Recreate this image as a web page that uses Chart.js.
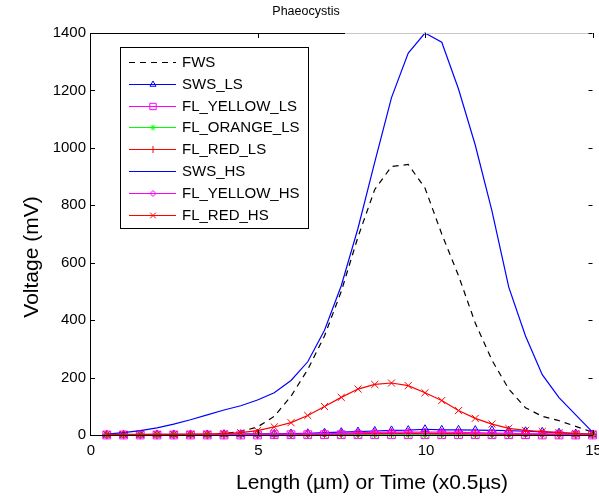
<!DOCTYPE html>
<html>
<head>
<meta charset="utf-8">
<script src="https://cdn.jsdelivr.net/npm/chart.js@4.4.0/dist/chart.umd.min.js"></script>
<style>
    html, body { margin: 0; padding: 0; background: #fff; }
    #wrap { position: relative; width: 599px; height: 496px; }
</style>
</head>
<body>
<div id="wrap"><canvas id="chart" width="599" height="496"></canvas></div>
<script>
// x positions (length in um / time step)
const xValues = [0.5, 1, 1.5, 2, 2.5, 3, 3.5, 4, 4.5, 5, 5.5, 6, 6.5, 7, 7.5, 8, 8.5, 9, 9.5, 10,
                 10.5, 11, 11.5, 12, 12.5, 13, 13.5, 14, 14.5, 15];

// Series values (mV)
const fws        = [0, 0, 0, 0, 1, 1, 2, 5, 12, 28, 65, 135, 228, 345, 500, 690, 855, 935, 942, 860,
                    700, 555, 390, 260, 160, 95, 65, 50, 30, 10];
const swsLs      = [1, 1, 1, 2, 2, 2, 2, 3, 3, 4, 4, 5, 6, 8, 10, 12, 14, 16, 17, 20,
                    18, 18, 17, 16, 15, 13, 11, 8, 5, 2];
const flYellowLs = [0, 0, 0, 0, 0, 0, 0, 0, 0, 0, 1, 1, 1, 1, 1, 1, 1, 1, 1, 1,
                    1, 1, 1, 1, 1, 1, 0, 0, 0, 0];
const flOrangeLs = [0, 0, 0, 0, 0, 0, 0, 0, 0, 0, 0, 0, 0, 0, 0, 0.5, 0.5, 0.5, 0.5, 0.5,
                    0.5, 0.5, 0.5, 0, 0, 0, 0, 0, 0, 0];
const flRedLs    = [1, 1, 1, 1, 1, 1, 1, 1, 1, 2, 2, 2, 3, 3, 4, 5, 5, 6, 6, 6,
                    5, 5, 4, 4, 3, 3, 2, 2, 1, 1];
const swsHs      = [3, 8, 15, 25, 38, 53, 70, 87, 102, 122, 147, 190, 255, 365, 520, 720, 950, 1175, 1330, 1400,
                    1368, 1205, 1010, 780, 515, 345, 210, 130, 70, 10];
const flYellowHs = [1, 1, 1, 1, 1, 1, 1, 2, 2, 2, 3, 3, 4, 5, 6, 8, 9, 10, 10, 10,
                    10, 9, 8, 7, 6, 5, 4, 3, 2, 1];
const flRedHs    = [2, 2, 2, 2, 2, 3, 3, 5, 8, 15, 28, 43, 68, 99, 131, 160, 176, 181, 172, 147,
                    120, 85, 58, 38, 23, 16, 12, 8, 5, 3];

const seriesNames = ['FWS', 'SWS_LS', 'FL_YELLOW_LS', 'FL_ORANGE_LS', 'FL_RED_LS', 'SWS_HS', 'FL_YELLOW_HS', 'FL_RED_HS'];
const seriesData = [fws, swsLs, flYellowLs, flOrangeLs, flRedLs, swsHs, flYellowHs, flRedHs];

const xTicks = [0, 5, 10, 15];
const yTicks = [0, 200, 400, 600, 800, 1000, 1200, 1400];

const FONT = "'Liberation Sans', Arial, Helvetica, sans-serif";

// line / marker look per series
const styles = [
    { color: '#000000', marker: false, dash: [6, 5] },
    { color: '#0000ff', marker: 'triangle', radius: 4.5 },
    { color: '#ff00ff', marker: 'rect', radius: 5.5 },
    { color: '#00ff00', marker: 'star', radius: 4 },
    { color: '#ff0000', marker: 'cross', radius: 4.5 },
    { color: '#0000ff', marker: false },
    { color: '#ff00ff', marker: 'rectRot', radius: 4 },
    { color: '#ff0000', marker: 'crossRot', radius: 5 }
];

const datasets = seriesNames.map((name, i) => {
    const s = styles[i];
    return {
        label: name,
        data: xValues.map((x, j) => ({ x: x, y: seriesData[i][j] })),
        borderColor: s.color,
        borderWidth: 1.2,
        borderDash: s.dash || [],
        pointStyle: s.marker || 'circle',
        pointRadius: s.marker ? s.radius : 0,
        pointBorderColor: s.color,
        pointBackgroundColor: 'rgba(0,0,0,0)',
        pointBorderWidth: 1,
        tension: 0,
        fill: false,
        clip: false,
        order: seriesNames.length - 1 - i   // later series drawn on top
    };
});

// frame, inward ticks, x labels, titles and the boxed legend
const decorPlugin = {
    id: 'decor',
    afterDraw(chart) {
        const ctx = chart.ctx;
        const a = chart.chartArea;
        const xs = chart.scales.x, ys = chart.scales.y;
        ctx.save();
        ctx.lineWidth = 1;

        // frame
        ctx.strokeStyle = '#000';
        ctx.beginPath();
        ctx.moveTo(a.left + 0.5, a.top + 0.5);
        ctx.lineTo(a.left + 0.5, a.bottom + 0.5);
        ctx.lineTo(a.right, a.bottom + 0.5);
        ctx.moveTo(a.left + 0.5, a.top + 0.5);
        ctx.lineTo(345, a.top + 0.5);
        ctx.stroke();
        ctx.strokeStyle = '#c8c8c8';
        ctx.beginPath();
        ctx.moveTo(345, a.top + 0.5);
        ctx.lineTo(a.right, a.top + 0.5);
        ctx.stroke();

        // ticks pointing inward
        ctx.strokeStyle = '#000';
        ctx.beginPath();
        xTicks.forEach(v => {
            const px = Math.round(xs.getPixelForValue(v)) + 0.5;
            ctx.moveTo(px, a.bottom);
            ctx.lineTo(px, a.bottom - 5);
            ctx.moveTo(px, a.top);
            ctx.lineTo(px, a.top + 5);
        });
        yTicks.forEach(v => {
            const py = Math.round(ys.getPixelForValue(v)) + 0.5;
            ctx.moveTo(a.left, py);
            ctx.lineTo(a.left + 5, py);
            ctx.moveTo(a.right, py);
            ctx.lineTo(a.right - 4, py);
        });
        ctx.stroke();

        // x tick labels (the last one runs off the edge, as in the original)
        ctx.fillStyle = '#000';
        ctx.textAlign = 'center';
        ctx.textBaseline = 'middle';
        ctx.font = '15px ' + FONT;
        xTicks.forEach(v => {
            ctx.fillText(String(v), xs.getPixelForValue(v) + 1, 451);
        });

        // titles
        ctx.font = '12.5px ' + FONT;
        ctx.fillText('Phaeocystis', 306, 12);
        ctx.font = '21px ' + FONT;
        ctx.fillText('Length (\u00b5m) or Time (x0.5\u00b5s)', 372, 483);
        ctx.save();
        ctx.translate(32, 257);
        ctx.rotate(-Math.PI / 2);
        ctx.fillText('Voltage (mV)', 0, 0);
        ctx.restore();

        // legend box
        const box = { left: 120, top: 47, right: 308, bottom: 228 };
        ctx.fillStyle = '#fff';
        ctx.fillRect(box.left, box.top, box.right - box.left, box.bottom - box.top);
        ctx.strokeStyle = '#000';
        ctx.strokeRect(box.left + 0.5, box.top + 0.5, box.right - box.left, box.bottom - box.top);

        ctx.font = '15px ' + FONT;
        ctx.textAlign = 'left';
        seriesNames.forEach((name, i) => {
            const s = styles[i];
            const y = Math.round(62 + i * 21.8) + 0.5;
            ctx.lineWidth = 1.2;
            ctx.strokeStyle = s.color;
            ctx.setLineDash(s.dash || []);
            ctx.beginPath();
            ctx.moveTo(129, y);
            ctx.lineTo(176, y);
            ctx.stroke();
            ctx.setLineDash([]);
            if (s.marker) {
                ctx.lineWidth = 1;
                ctx.fillStyle = 'rgba(0,0,0,0)';
                Chart.helpers.drawPoint(ctx, {
                    pointStyle: s.marker, radius: s.radius - 1, rotation: 0, borderWidth: 1
                }, 153, y);
            }
            ctx.fillStyle = '#000';
            ctx.fillText(name, 182, y);
        });
        ctx.restore();
    }
};

new Chart(document.getElementById('chart').getContext('2d'), {
    type: 'line',
    data: { datasets: datasets },
    options: {
        responsive: false,
        animation: false,
        devicePixelRatio: 1,
        layout: { padding: { left: 0, top: 33, right: 0, bottom: 0 } },
        plugins: {
            legend: { display: false },
            title: { display: false },
            tooltip: { enabled: false }
        },
        scales: {
            x: {
                type: 'linear',
                min: 0,
                max: 15,
                grid: { display: false, drawTicks: false },
                border: { display: false },
                ticks: { display: false },
                afterBuildTicks: (scale) => { scale.ticks = xTicks.map(v => ({ value: v })); },
                afterFit: (scale) => { scale.height = 61; scale.paddingLeft = 0; scale.paddingRight = 0; }
            },
            y: {
                type: 'linear',
                min: 0,
                max: 1400,
                grid: { display: false, drawTicks: false },
                border: { display: false },
                ticks: {
                    font: { family: FONT, size: 15 },
                    color: '#000',
                    padding: 4,
                    callback: (value) => String(value)
                },
                afterBuildTicks: (scale) => { scale.ticks = yTicks.map(v => ({ value: v })); },
                afterFit: (scale) => { scale.width = 90; scale.paddingTop = 0; scale.paddingBottom = 0; }
            }
        }
    },
    plugins: [decorPlugin]
});
</script>
</body>
</html>
